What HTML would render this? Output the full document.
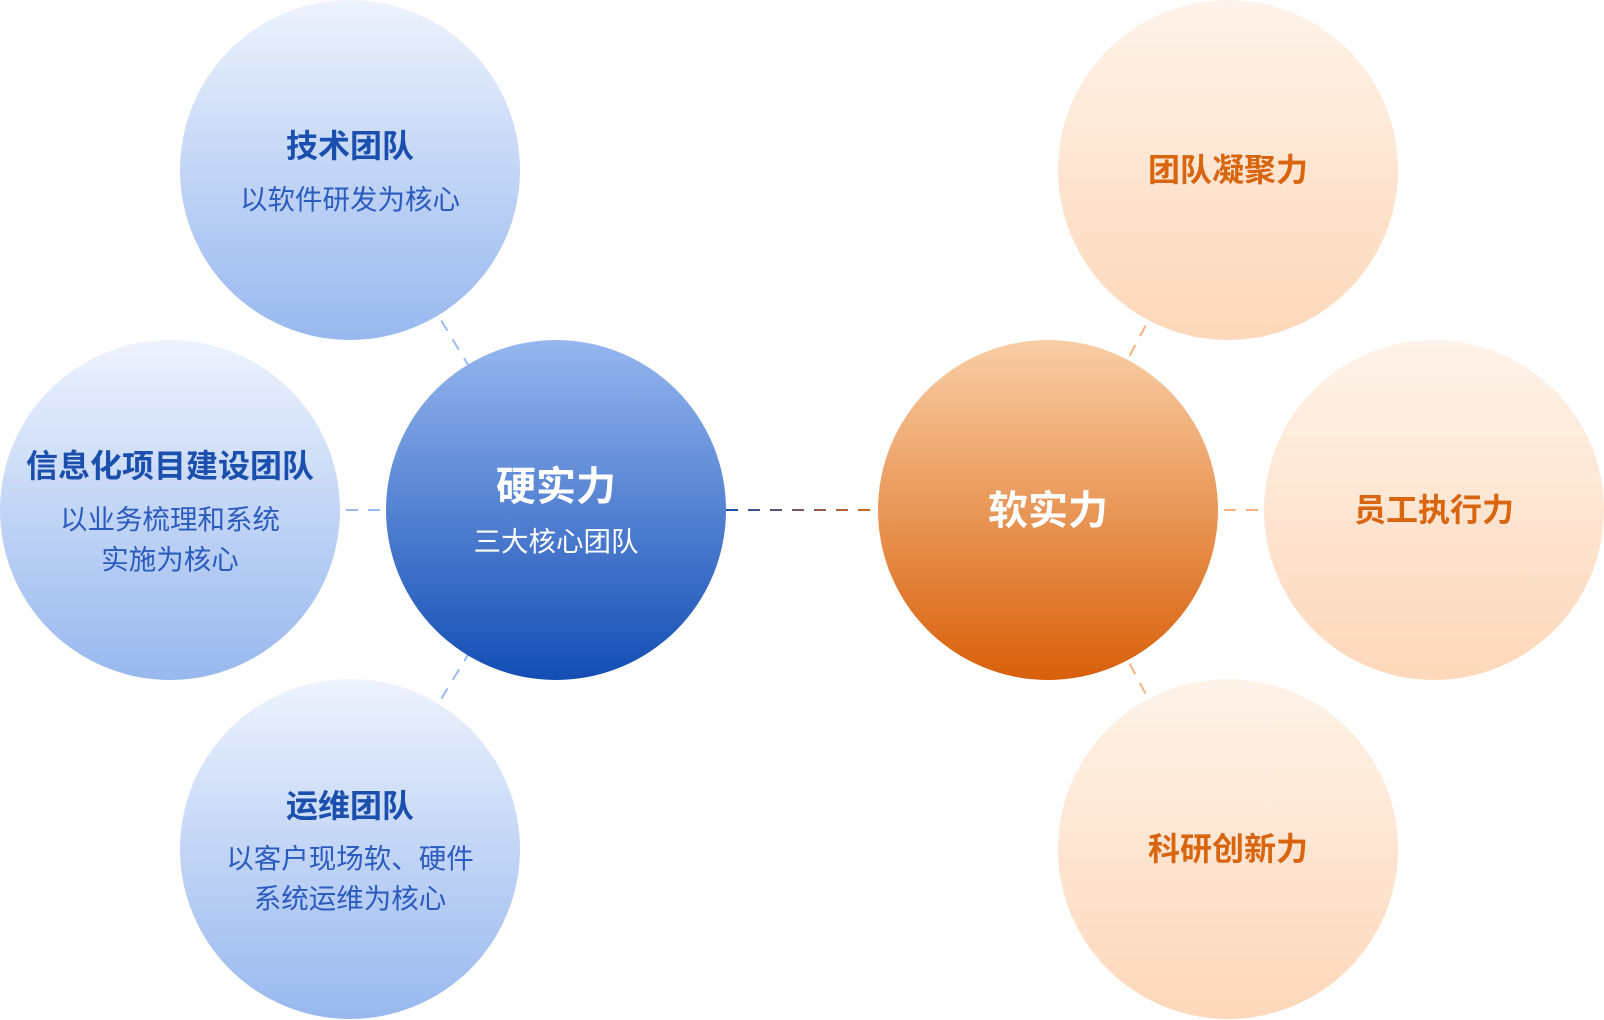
<!DOCTYPE html>
<html><head><meta charset="utf-8"><style>
body{margin:0;width:1604px;height:1020px;background:#fff;overflow:hidden;position:relative;font-family:"Liberation Sans","Noto Sans CJK SC",sans-serif}
svg{position:absolute;left:0;top:0}
.t{position:absolute;width:400px;text-align:center;white-space:nowrap;line-height:40px}
.h{font-size:32px;font-weight:bold;color:#1b4fae}
.s{font-size:27.5px;color:#2a5bbf}
.o{font-size:32px;font-weight:bold;color:#d9650f}
</style></head><body>
<svg width="1604" height="1020">
<defs>
<linearGradient id="lb" x1="0" y1="0" x2="0" y2="1"><stop offset="0" stop-color="#eef3fd"/><stop offset="1" stop-color="#98b8ee"/></linearGradient>
<linearGradient id="cb" x1="0" y1="0" x2="0" y2="1"><stop offset="0" stop-color="#96b7ef"/><stop offset="1" stop-color="#134db4"/></linearGradient>
<linearGradient id="lo" x1="0" y1="0" x2="0" y2="1"><stop offset="0" stop-color="#fef3ea"/><stop offset="1" stop-color="#fdd8ba"/></linearGradient>
<linearGradient id="co" x1="0" y1="0" x2="0" y2="1"><stop offset="0" stop-color="#f9cea6"/><stop offset="1" stop-color="#d8600a"/></linearGradient>
<linearGradient id="hl" x1="726" y1="0" x2="878" y2="0" gradientUnits="userSpaceOnUse"><stop offset="0" stop-color="#1a4fb4"/><stop offset="1" stop-color="#e0660c"/></linearGradient>
</defs>
<g stroke-width="2" stroke-dasharray="12 10" fill="none">
<line x1="350" y1="170" x2="556" y2="510" stroke="#9bbbf0"/>
<line x1="170" y1="510" x2="556" y2="510" stroke="#9bbbf0"/>
<line x1="350" y1="849" x2="556" y2="510" stroke="#9bbbf0"/>
<line x1="726" y1="510" x2="878" y2="510" stroke="url(#hl)"/>
<line x1="1228" y1="170" x2="1048" y2="510" stroke="#f7b283"/>
<line x1="1434" y1="510" x2="1048" y2="510" stroke="#f7b283"/>
<line x1="1228" y1="849" x2="1048" y2="510" stroke="#f7b283"/>
</g>
<circle cx="350" cy="170" r="170" fill="url(#lb)"/>
<circle cx="170" cy="510" r="170" fill="url(#lb)"/>
<circle cx="350" cy="849" r="170" fill="url(#lb)"/>
<circle cx="556" cy="510" r="170" fill="url(#cb)"/>
<circle cx="1048" cy="510" r="170" fill="url(#co)"/>
<circle cx="1228" cy="170" r="170" fill="url(#lo)"/>
<circle cx="1434" cy="510" r="170" fill="url(#lo)"/>
<circle cx="1228" cy="849" r="170" fill="url(#lo)"/>
</svg>
<div class="t h" style="left:150px;top:126px">技术团队</div>
<div class="t s" style="left:150px;top:180px">以软件研发为核心</div>
<div class="t h" style="left:-30px;top:446px">信息化项目建设团队</div>
<div class="t s" style="left:-30px;top:500px">以业务梳理和系统<br>实施为核心</div>
<div class="t h" style="left:150px;top:786px">运维团队</div>
<div class="t s" style="left:150px;top:839px">以客户现场软、硬件<br>系统运维为核心</div>
<div class="t" style="left:356px;top:465px;font-size:40px;line-height:44px;font-weight:bold;color:#fff">硬实力</div>
<div class="t" style="left:356px;top:522px;font-size:27.5px;color:#fff">三大核心团队</div>
<div class="t" style="left:848px;top:489px;font-size:40px;line-height:44px;font-weight:bold;color:#fff">软实力</div>
<div class="t o" style="left:1028px;top:150px">团队凝聚力</div>
<div class="t o" style="left:1234px;top:490px">员工执行力</div>
<div class="t o" style="left:1028px;top:829px">科研创新力</div>
</body></html>
